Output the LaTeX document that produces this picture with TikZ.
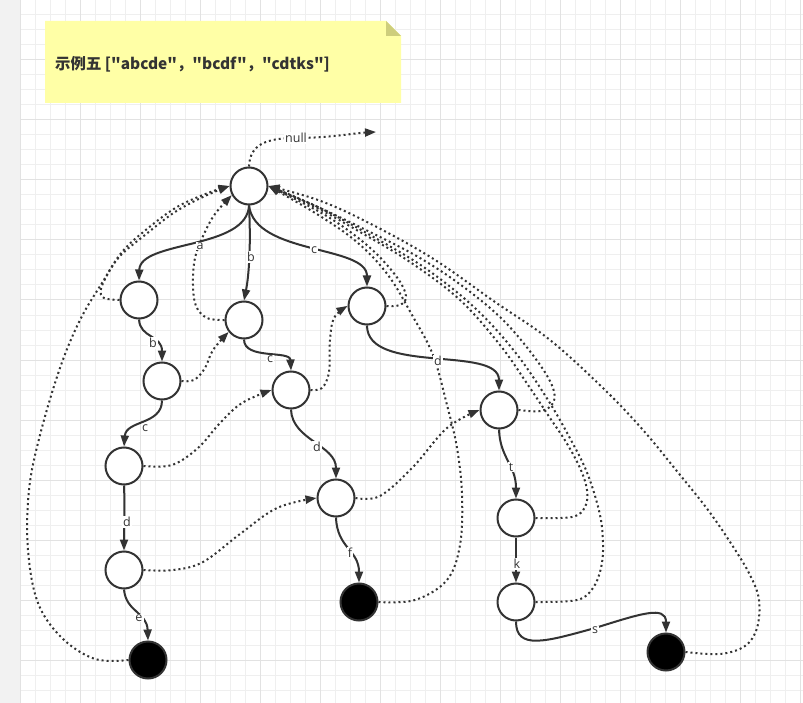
\documentclass[tikz,border=0pt]{standalone}
\usepackage{fontspec}
\setmainfont{Open Sans}
\newfontfamily\cjk{Noto Sans CJK SC}
\usetikzlibrary{arrows.meta}
\definecolor{ink}{HTML}{333333}
\definecolor{notefill}{HTML}{FFFFA6}
\definecolor{notefold}{HTML}{CECE7C}
\definecolor{gridminor}{HTML}{EFEFEF}
\definecolor{gridmajor}{HTML}{E2E2E2}
\definecolor{strip}{HTML}{F2F2F2}
\begin{document}
\begin{tikzpicture}[x=1pt,y=-1pt,
  tnode/.style={circle, draw=ink, line width=2pt, fill=white, minimum size=37pt, inner sep=0pt},
  tend/.style={tnode, fill=black},
  edge/.style={draw=ink, line width=2pt, -{Triangle[length=11pt,width=8pt]}},
  fail/.style={draw=ink, line width=2pt, dash pattern=on 2pt off 3pt, -{Triangle[length=11pt,width=8pt]}},
  lbl/.style={fill=white, text=ink, inner sep=1pt, font=\fontsize{12.5}{14}\selectfont}]
\useasboundingbox (0,0) rectangle (803,703);
% background
\fill[white] (0,0) rectangle (803,703);
\fill[strip] (0,0) rectangle (20,703);
\foreach \x in {20,35,...,800} \draw[gridminor, line width=1pt] (\x,0) -- (\x,703);
\foreach \y in {0,15,...,700} \draw[gridminor, line width=1pt] (20,\y) -- (803,\y);
\foreach \x in {20,80,...,800} \draw[gridmajor, line width=1pt] (\x,0) -- (\x,703);
\foreach \y in {0,60,...,700} \draw[gridmajor, line width=1pt] (20,\y) -- (803,\y);
% note
\fill[notefill] (45,21) -- (386,21) -- (401,36) -- (401,103) -- (45,103) -- cycle;
\fill[notefold] (386,21) -- (401,36) -- (386,36) -- cycle;
\node[anchor=west, text=ink, inner sep=0pt, font=\cjk\bfseries\fontsize{15.4}{18}\selectfont] (note) at (55,64) {示例五 ["abcde"，"bcdf"，"cdtks"]};
% nodes
\node[tnode] (R) at (249,186) {};
\node[tnode] (A1) at (139,300) {};
\node[tnode] (B1) at (244,320) {};
\node[tnode] (C1) at (367,306) {};
\node[tnode] (A2) at (162,381) {};
\node[tnode] (B2) at (291,390) {};
\node[tnode] (A3) at (124,466) {};
\node[tnode] (B3) at (336,498) {};
\node[tnode] (C2) at (499,410) {};
\node[tnode] (A4) at (124,570) {};
\node[tend] (Bend) at (359,602) {};
\node[tnode] (C3) at (516,518) {};
\node[tnode] (C4) at (516,602) {};
\node[tend] (Aend) at (148,660) {};
\node[tend] (Cend) at (666,652) {};
\coordinate (nullend) at (376,132);
% solid edges
\draw[edge] (R.south) .. controls (247,250) and (140,240) .. (A1.north);
\draw[edge] (R.south) .. controls (251,245) and (249,275) .. (B1.north);
\draw[edge] (R.south) .. controls (255,255) and (367,245) .. (C1.north);
\draw[edge] (A1.south) .. controls (140,338) and (162,335) .. (A2.north);
\draw[edge] (B1.south) .. controls (244,360) and (290,350) .. (B2.north);
\draw[edge] (A2.south) .. controls (162,425) and (126,420) .. (A3.north);
\draw[edge] (A3.south) .. controls (125,510) and (124,530) .. (A4.north);
\draw[edge] (A4.south) .. controls (126,612) and (147,612) .. (Aend.north);
\draw[edge] (B2.south) .. controls (292,440) and (336,445) .. (B3.north);
\draw[edge] (B3.south) .. controls (337,548) and (359,550) .. (Bend.north);
\draw[edge] (C1.south) .. controls (367,375) and (499,345) .. (C2.north);
\draw[edge] (C2.south) .. controls (500,458) and (516,465) .. (C3.north);
\draw[edge] (C3.south) -- (C4.north);
\draw[edge] (C4.south) .. controls (516,650) and (545,642) .. (595,628) .. controls (640,614) and (666,605) .. (Cend.north);
% dotted failure links
\draw[fail] (R.north) .. controls (250,145) and (265,138) .. (296,138) .. controls (330,138) and (355,133) .. (nullend);
\draw[fail] plot[smooth, tension=0.6] coordinates {(A1.west) (104,298) (101,289) (110,270) (122,254) (145,235) (175,212) (205,196) (R.west)};
\draw[fail] plot[smooth, tension=0.6] coordinates {(Aend.west) (95,659) (62,638) (38,603) (28,550) (29,490) (40,435) (60,368) (80,320) (102,283) (122,252) (147,229) (177,207) (208,193) (R.west)};
\draw[fail] plot[smooth, tension=0.6] coordinates {(B1.west) (207,318) (196,306) (193,285) (195,258) (204,234) (215,214) (R.208)};
\draw[fail] plot[smooth, tension=0.6] coordinates {(A2.east) (194,380) (205,368) (213,350) (B1.218)};
\draw[fail] plot[smooth, tension=0.6] coordinates {(A3.east) (172,465) (198,448) (220,423) (242,403) (B2.west)};
\draw[fail] plot[smooth, tension=0.6] coordinates {(B2.east) (322,388) (329,372) (330,340) (334,318) (C1.west)};
\draw[fail] plot[smooth, tension=0.6] coordinates {(A4.east) (173,570) (203,562) (240,534) (277,508) (B3.west)};
\draw[fail] plot[smooth, tension=0.6] coordinates {(B3.east) (380,496) (413,467) (447,428) (C2.west)};
\draw[fail] plot[smooth, tension=0.6] coordinates {(C1.east) (400,305) (406,296) (396,276) (368,246) (325,215) (R.east)};
\draw[fail] plot[smooth, tension=0.6] coordinates {(Bend.east) (415,600) (447,580) (460,545) (462,495) (457,448) (447,405) (433,355) (412,315) (388,275) (358,243) (320,216) (R.east)};
\draw[fail] plot[smooth, tension=0.6] coordinates {(C2.east) (541,411) (553,403) (553,388) (538,362) (505,322) (465,288) (420,258) (370,232) (320,208) (R.east)};
\draw[fail] plot[smooth, tension=0.6] coordinates {(C3.east) (572,517) (585,507) (587,490) (580,468) (566,442) (550,418) (528,385) (500,345) (460,300) (410,262) (360,232) (315,207) (R.east)};
\draw[fail] plot[smooth, tension=0.6] coordinates {(C4.east) (577,600) (593,588) (601,568) (603,545) (600,515) (588,475) (572,442) (548,400) (515,352) (475,308) (425,268) (370,235) (318,207) (R.east)};
\draw[fail] plot[smooth, tension=0.6] coordinates {(Cend.east) (720,654) (745,646) (757,628) (759,600) (750,575) (732,545) (708,510) (676,470) (643,430) (605,390) (550,340) (495,302) (432,258) (367,222) (318,200) (R.east)};
% labels
\node[lbl] (lnull) at (296,138) {null};
\node[lbl] (la) at (200,246) {a};
\node[lbl] (lb1) at (251,257) {b};
\node[lbl] (lc1) at (314,250) {c};
\node[lbl] (lb2) at (153,343) {b};
\node[lbl] (lc2) at (270,359) {c};
\node[lbl] (lc3) at (145,428) {c};
\node[lbl] (ld1) at (127,522) {d};
\node[lbl] (le) at (139,618) {e};
\node[lbl] (ld2) at (317,447) {d};
\node[lbl] (lf) at (350,553) {f};
\node[lbl] (ld3) at (438,361) {d};
\node[lbl] (lt) at (511,467) {t};
\node[lbl] (lk) at (517,564) {k};
\node[lbl] (ls) at (595,630) {s};
\end{tikzpicture}
\end{document}
